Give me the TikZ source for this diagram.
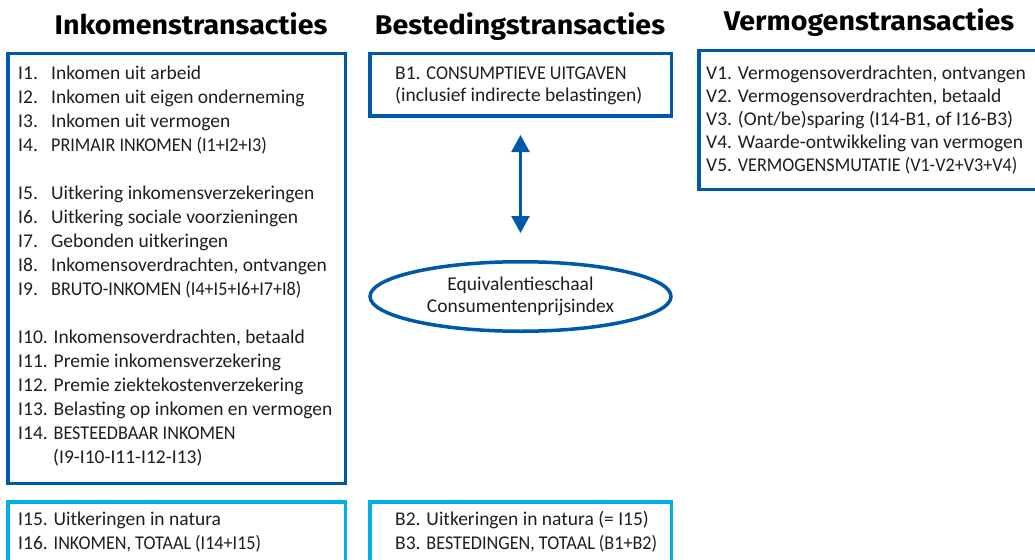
\documentclass[tikz,border=0pt]{standalone}
\usepackage{fontspec}
\setmainfont{Carlito}
\newfontfamily\titlefont[FakeStretch=1.06]{Fira Sans}
\newfontfamily\hoofdletters[FakeStretch=0.93]{Carlito}
\usetikzlibrary{arrows.meta, positioning, shapes.geometric}
\definecolor{cbsblue}{RGB}{0,88,168}
\definecolor{cbscyan}{RGB}{0,176,226}
\definecolor{tekst}{RGB}{30,30,30}
\newcommand{\nr}[1]{\makebox[33pt][l]{#1}}
\tikzset{
  kop/.style={font=\titlefont\bfseries\fontsize{27}{30}\selectfont, text=black, anchor=base, inner sep=0pt},
  blok/.style={draw=cbsblue, line width=3.5pt, rectangle, anchor=north west, inner sep=0pt},
  natura/.style={blok, draw=cbscyan},
  lijst/.style={text=tekst, align=left, anchor=north west, inner sep=0pt},
  pijl/.style={draw=cbsblue, line width=2.5pt, {Triangle[width=18pt,length=17pt]}-{Triangle[width=18pt,length=17pt]}}
}
\begin{document}
\begin{tikzpicture}[x=1pt, y=-1pt]
    \useasboundingbox (0,0) rectangle (1035,559);
    \clip (0,0) rectangle (1035,559);

    % koppen
    \node[kop] (inktitel) at (191,35) {Inkomenstransacties};
    \node[kop] (besttitel) at (520,35) {Bestedingstransacties};
    \node[kop] (vermtitel) at (869,31) {Vermogenstransacties};

    % kaders
    \node[blok, minimum width=337.5pt, minimum height=429.5pt] (inkblok) at (6,52) {};
    \node[natura, minimum width=337.5pt, minimum height=100pt] (inknatura) at (6,500) {};
    \node[blok, minimum width=301.5pt, minimum height=62.5pt] (bestblok) at (368,52) {};
    \node[natura, minimum width=301.5pt, minimum height=100pt] (bestnatura) at (368,500) {};
    \node[blok, minimum width=400pt, minimum height=138.5pt] (vermblok) at (697,49) {};

    % inkomenstransacties
    \node[lijst, font=\fontsize{19.5}{24}\selectfont] (inklijst)
        at ([xshift=12pt, yshift=-10.2pt]inkblok.north west) {%
        \strut\nr{I1.}Inkomen uit arbeid\\
        \nr{I2.}Inkomen uit eigen onderneming\\
        \nr{I3.}Inkomen uit vermogen\\
        \nr{I4.}{\hoofdletters PRIMAIR INKOMEN (I1+I2+I3)}\\[24pt]
        \nr{I5.}Uitkering inkomensverzekeringen\\
        \nr{I6.}Uitkering sociale voorzieningen\\
        \nr{I7.}Gebonden uitkeringen\\
        \nr{I8.}Inkomensoverdrachten, ontvangen\\
        \nr{I9.}{\hoofdletters BRUTO-INKOMEN (I4+I5+I6+I7+I8)}\\[24pt]
        I10. Inkomensoverdrachten, betaald\\
        I11. Premie inkomensverzekering\\
        I12. Premie ziektekostenverzekering\\
        I13. Belasting op inkomen en vermogen\\
        I14. {\hoofdletters BESTEEDBAAR INKOMEN}\\
        \hspace*{35pt}(I9-I10-I11-I12-I13)};
    \node[lijst, font=\fontsize{19.5}{24}\selectfont] (inknaturalijst)
        at ([xshift=12pt, yshift=-8.2pt]inknatura.north west) {%
        \strut I15. Uitkeringen in natura\\
        I16. {\hoofdletters INKOMEN, TOTAAL (I14+I15)}};

    % bestedingstransacties
    \node[lijst, font=\fontsize{19.5}{22}\selectfont] (bestlijst)
        at ([xshift=27pt, yshift=-11.6pt]bestblok.north west) {%
        \strut B1. {\hoofdletters CONSUMPTIEVE UITGAVEN}\\
        (inclusief indirecte belastingen)};
    \node[lijst, font=\fontsize{19.5}{24}\selectfont] (bestnaturalijst)
        at ([xshift=27pt, yshift=-8.2pt]bestnatura.north west) {%
        \strut B2. Uitkeringen in natura (= I15)\\
        B3. {\hoofdletters BESTEDINGEN, TOTAAL (B1+B2)}};

    % equivalentieschaal
    \node[ellipse, draw=cbsblue, line width=3.5pt, minimum width=301pt, minimum height=69.5pt,
          inner sep=0pt, align=center, text=tekst, font=\fontsize{19.5}{22}\selectfont]
        (equiv) at (520.5,296.5) {Equivalentieschaal\\Consumentenprijsindex};
    \draw[pijl, shorten <=17pt, shorten >=27pt] (bestblok.south) -- (equiv.north);

    % vermogenstransacties
    \node[lijst, font=\fontsize{19.5}{23}\selectfont] (vermlijst)
        at ([xshift=9pt, yshift=-13.9pt]vermblok.north west) {%
        \strut V1. Vermogensoverdrachten, ontvangen\\
        V2. Vermogensoverdrachten, betaald\\
        V3. (Ont/be)sparing (I14-B1, of I16-B3)\\
        V4. Waarde-ontwikkeling van vermogen\\
        V5. {\hoofdletters VERMOGENSMUTATIE (V1-V2+V3+V4)}};
\end{tikzpicture}
\end{document}
